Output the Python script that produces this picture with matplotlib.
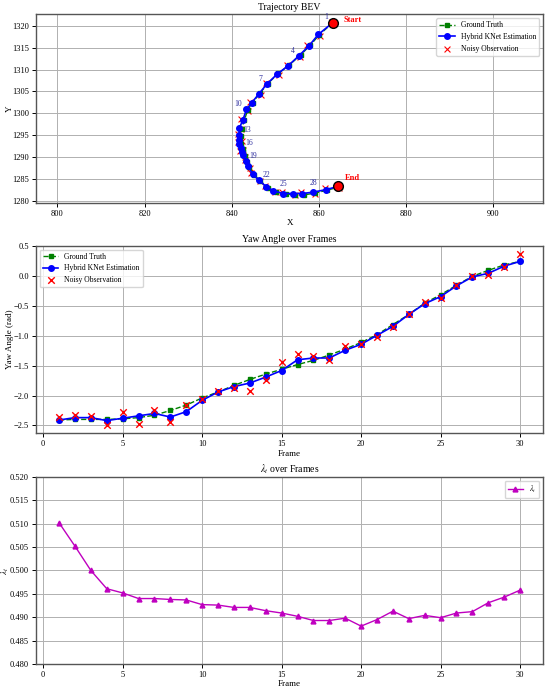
import matplotlib
matplotlib.use('Agg')
import matplotlib.pyplot as plt

plt.rcParams['font.family'] = ['Liberation Serif', 'DejaVu Serif']
plt.rcParams['mathtext.fontset'] = 'stix'
plt.rcParams['font.size'] = 6.5

frames = list(range(1, 31))

# trajectory (BEV)
est_x = [863.2, 859.9, 857.7, 855.4, 852.9, 850.5, 848.1, 846.3, 844.6, 843.4,
         842.6, 841.8, 841.8, 841.75, 841.8, 842.1, 842.4, 842.6, 843.2, 843.8,
         844.8, 846.2, 848.0, 849.6, 851.9, 854.1, 856.2, 858.7, 861.7, 864.4]
est_y = [1320.7, 1318.0, 1315.35, 1313.1, 1310.8, 1309.0, 1306.7, 1304.5, 1302.4, 1300.9,
         1298.5, 1296.7, 1295.0, 1294.0, 1293.1, 1292.0, 1291.2, 1290.4, 1289.1, 1287.9,
         1286.1, 1284.8, 1283.2, 1282.3, 1281.7, 1281.7, 1281.7, 1282.0, 1282.6, 1283.3]
gt_x = [863.2, 860.1, 858.0, 855.9, 853.2, 850.7, 848.3, 846.5, 844.8, 843.7,
        842.9, 842.3, 842.1, 842.0, 842.2, 842.5, 842.7, 843.0, 843.5, 844.1,
        845.1, 846.5, 848.4, 850.1, 852.4, 854.6, 856.7, 859.2, 862.0, 864.8]
gt_y = [1320.7, 1317.9, 1315.5, 1313.4, 1311.0, 1309.1, 1306.8, 1304.6, 1302.4, 1300.8,
        1298.4, 1296.5, 1294.9, 1293.9, 1293.0, 1291.9, 1291.1, 1290.3, 1289.0, 1287.8,
        1286.0, 1284.6, 1283.0, 1282.1, 1281.6, 1281.4, 1281.4, 1281.8, 1282.5, 1283.2]
obs_x = [863.0, 860.3, 857.3, 855.8, 852.6, 850.9, 847.8, 846.7, 844.3, 843.8,
         842.2, 842.2, 841.5, 842.3, 841.5, 842.6, 842.0, 843.1, 843.0, 844.2,
         844.5, 846.6, 847.7, 850.0, 851.6, 854.5, 855.9, 859.1, 861.4, 864.7]
obs_y = [1320.9, 1317.6, 1315.7, 1312.8, 1311.1, 1308.7, 1307.0, 1304.2, 1302.7, 1300.6,
         1298.8, 1296.4, 1295.3, 1293.7, 1293.4, 1291.7, 1291.5, 1290.1, 1289.4, 1287.6,
         1286.4, 1284.5, 1283.5, 1282.0, 1282.0, 1281.4, 1282.0, 1281.7, 1282.9, 1283.0]

# yaw angle
yaw_gt = [-2.41, -2.40, -2.40, -2.40, -2.39, -2.37, -2.33, -2.25, -2.16, -2.04,
          -1.94, -1.83, -1.73, -1.64, -1.56, -1.48, -1.41, -1.32, -1.22, -1.11,
          -0.98, -0.81, -0.64, -0.45, -0.31, -0.15, 0.00, 0.10, 0.19, 0.25]
yaw_est = [-2.41, -2.37, -2.37, -2.42, -2.38, -2.34, -2.30, -2.36, -2.27, -2.08,
           -1.94, -1.85, -1.79, -1.69, -1.58, -1.40, -1.37, -1.37, -1.24, -1.14,
           -0.99, -0.84, -0.64, -0.46, -0.34, -0.16, -0.01, 0.05, 0.17, 0.25]
yaw_obs = [-2.36, -2.33, -2.35, -2.49, -2.28, -2.47, -2.25, -2.44, -2.15, -2.05,
           -1.93, -1.87, -1.92, -1.74, -1.43, -1.31, -1.34, -1.40, -1.17, -1.14,
           -1.01, -0.85, -0.64, -0.43, -0.36, -0.15, 0.01, 0.03, 0.15, 0.37]

# lambda_t
lam = [0.5102, 0.5052, 0.5000, 0.4961, 0.4952, 0.4940, 0.4940, 0.4938, 0.4937, 0.4927,
       0.4926, 0.4921, 0.4921, 0.4914, 0.4909, 0.4902, 0.4893, 0.4893, 0.4898, 0.4881,
       0.4895, 0.4913, 0.4897, 0.4904, 0.4899, 0.4909, 0.4912, 0.4931, 0.4943, 0.4958]

label_frames = [1, 4, 7, 10, 13, 16, 19, 22, 25, 28]

fig = plt.figure(figsize=(5.5, 6.89), dpi=100)
ax1 = fig.add_axes([0.0655, 0.7058, 0.922, 0.2734])
ax2 = fig.add_axes([0.0655, 0.3711, 0.922, 0.2723])
ax3 = fig.add_axes([0.0655, 0.0363, 0.922, 0.2714])

for ax in (ax1, ax2, ax3):
    ax.grid(True, color='#b0b0b0', linewidth=0.7)
    ax.set_axisbelow(True)
    for s in ax.spines.values():
        s.set_color('#555555')
        s.set_linewidth(1.0)
    ax.tick_params(labelsize=6, length=3, width=0.7, pad=2)

# --- Trajectory BEV
ax1.scatter(obs_x, obs_y, marker='x', color='red', s=18, linewidths=0.8, label='Noisy Observation', zorder=2)
ax1.plot(gt_x, gt_y, 'g--s', markersize=3.5, linewidth=1.0, label='Ground Truth', zorder=3)
ax1.plot(est_x, est_y, 'b-o', markersize=4, linewidth=1.2, label='Hybrid KNet Estimation', zorder=4)
ax1.plot(est_x[0], est_y[0], 'o', color='red', markeredgecolor='black', markersize=7, zorder=5)
ax1.plot(est_x[-1], est_y[-1], 'o', color='red', markeredgecolor='black', markersize=7, zorder=5)
ax1.annotate('Start', (est_x[0], est_y[0]), xytext=(8, -1), textcoords='offset points',
             color='red', fontweight='bold', fontsize=6, va='bottom')
ax1.annotate('End', (est_x[-1], est_y[-1]), xytext=(5, 3), textcoords='offset points',
             color='red', fontweight='bold', fontsize=6, va='bottom')
for f in label_frames:
    i = f - 1
    if f <= 10:
        off, ha = (-3, 1), 'right'
    elif f <= 22:
        off, ha = (3, 1), 'left'
    else:
        off, ha = (0, 4), 'center'
    ax1.annotate(str(f), (est_x[i], est_y[i]), xytext=off, textcoords='offset points',
                 color='#3030a0', fontsize=5.5, ha=ha, va='bottom')
ax1.set_xlim(795.1, 911.5)
ax1.set_ylim(1279.6, 1322.6)
ax1.set_title('Trajectory BEV', fontsize=7, pad=3)
ax1.set_xlabel('X', fontsize=6.5, labelpad=1)
ax1.set_ylabel('Y', fontsize=6.5)
handles, labels = ax1.get_legend_handles_labels()
order = [1, 2, 0]
ax1.legend([handles[k] for k in order], [labels[k] for k in order],
           loc='upper right', fontsize=5.5, framealpha=0.8)

# --- Yaw angle
ax2.plot(frames, yaw_gt, 'g--s', markersize=3, linewidth=1.0, label='Ground Truth')
ax2.plot(frames, yaw_est, 'b-o', markersize=4, linewidth=1.2, label='Hybrid KNet Estimation')
ax2.scatter(frames, yaw_obs, marker='x', color='red', s=22, linewidths=1.0, label='Noisy Observation', zorder=3)
ax2.set_title('Yaw Angle over Frames', fontsize=7, pad=3)
ax2.set_xlabel('Frame', fontsize=6.5, labelpad=1)
ax2.set_ylabel('Yaw Angle (rad)', fontsize=6.5)
ax2.legend(loc='upper left', fontsize=5.5, framealpha=0.8)

# --- lambda_t
ax3.plot(frames, lam, 'm-^', markersize=3.5, linewidth=1.0, label=r'$\lambda_t$')
ax3.set_ylim(0.480, 0.520)
ax3.set_title(r'$\lambda_t$ over Frames', fontsize=7, pad=3)
ax3.set_xlabel('Frame', fontsize=6.5, labelpad=1)
ax3.set_ylabel(r'$\lambda_t$', fontsize=6.5)
ax3.legend(loc='upper right', fontsize=5.5, framealpha=0.8)

ax1.yaxis.set_label_coords(-0.043, 0.5)
ax2.yaxis.set_label_coords(-0.043, 0.5)
ax3.yaxis.set_label_coords(-0.05, 0.5)

fig.savefig('out.png', dpi=100)
